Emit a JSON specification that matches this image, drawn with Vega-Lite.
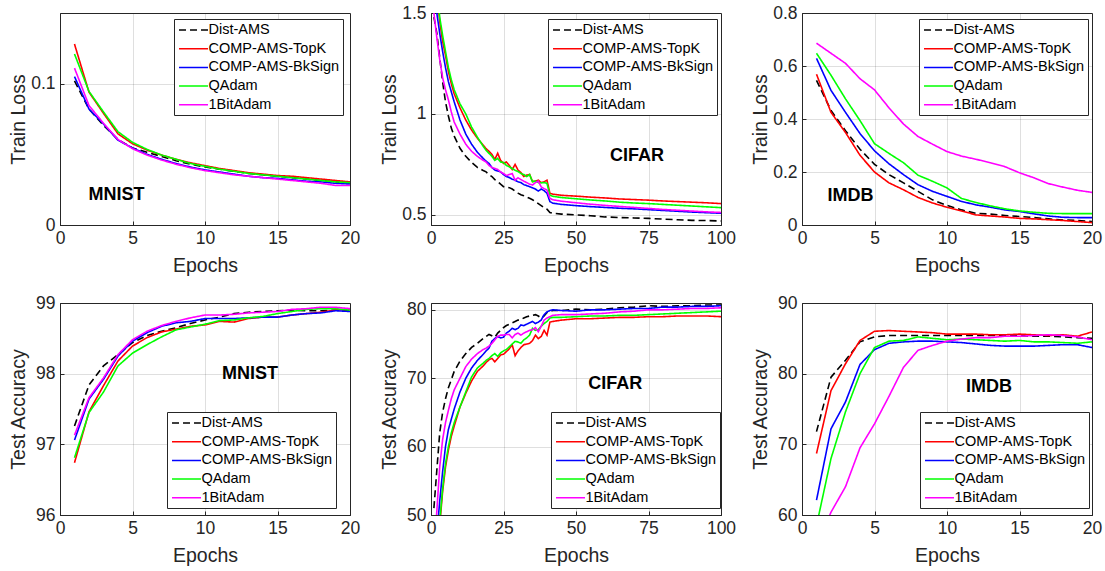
{
"$schema":"https://vega.github.io/schema/vega-lite/v6.json",
"background":"white",
"padding":{"left":8,"top":3,"right":5,"bottom":2},
"columns":3,
"bounds":"flush",
"spacing":{"row":78,"column":81},
"resolve":{"scale":{"x":"independent","y":"independent","color":"independent","strokeDash":"independent"},"legend":{"color":"independent","strokeDash":"independent"},"axis":{"x":"independent","y":"independent"}},
"config":{
 "font":"Liberation Sans",
 "view":{"stroke":"#262626","strokeWidth":1},
 "axis":{"domainColor":"#262626","domainWidth":1,"tickColor":"#262626","tickSize":-4,"labelColor":"#262626","titleColor":"#262626","labelFont":"Liberation Sans","titleFont":"Liberation Sans","labelFontSize":17.5,"titleFontSize":19.5,"titleFontWeight":"normal","gridColor":"#262626","gridOpacity":0.15,"labelFlush":false,"labelOverlap":false,"labelExpr":"''+datum.value"},
 "axisX":{"labelPadding":8,"minExtent":27,"maxExtent":27,"titlePadding":4.5},
 "axisY":{"labelPadding":9,"minExtent":26,"maxExtent":26,"titlePadding":5.5},
 "legend":{"orient":"none","fillColor":"white","strokeColor":"#262626","padding":3,"symbolType":"M-2,0H2","symbolSize":210,"symbolOffset":8.5,"symbolStrokeWidth":1.5,"labelFont":"Liberation Sans","labelFontSize":14.5,"labelColor":"#000000","rowPadding":3.7,"labelOffset":7,"labelLimit":300}
},
"datasets":{
"mt":[
{"e":1,"s":"D","v":0.102},{"e":2,"s":"D","v":0.082},{"e":3,"s":"D","v":0.0705},{"e":4,"s":"D","v":0.0605},{"e":5,"s":"D","v":0.0545},{"e":6,"s":"D","v":0.0515},{"e":7,"s":"D","v":0.0485},{"e":8,"s":"D","v":0.0455},{"e":9,"s":"D","v":0.043},{"e":10,"s":"D","v":0.041},{"e":11,"s":"D","v":0.0395},{"e":12,"s":"D","v":0.038},{"e":13,"s":"D","v":0.0365},{"e":14,"s":"D","v":0.0355},{"e":15,"s":"D","v":0.0345},{"e":16,"s":"D","v":0.0335},{"e":17,"s":"D","v":0.0325},{"e":18,"s":"D","v":0.0315},{"e":19,"s":"D","v":0.0305},{"e":20,"s":"D","v":0.0295},
{"e":1,"s":"T","v":0.128},{"e":2,"s":"T","v":0.094},{"e":3,"s":"T","v":0.079},{"e":4,"s":"T","v":0.0645},{"e":5,"s":"T","v":0.0575},{"e":6,"s":"T","v":0.053},{"e":7,"s":"T","v":0.0495},{"e":8,"s":"T","v":0.0465},{"e":9,"s":"T","v":0.044},{"e":10,"s":"T","v":0.042},{"e":11,"s":"T","v":0.040},{"e":12,"s":"T","v":0.0385},{"e":13,"s":"T","v":0.037},{"e":14,"s":"T","v":0.036},{"e":15,"s":"T","v":0.035},{"e":16,"s":"T","v":0.0345},{"e":17,"s":"T","v":0.0335},{"e":18,"s":"T","v":0.0325},{"e":19,"s":"T","v":0.0315},{"e":20,"s":"T","v":0.0305},
{"e":1,"s":"B","v":0.105},{"e":2,"s":"B","v":0.082},{"e":3,"s":"B","v":0.0715},{"e":4,"s":"B","v":0.060},{"e":5,"s":"B","v":0.0545},{"e":6,"s":"B","v":0.050},{"e":7,"s":"B","v":0.0465},{"e":8,"s":"B","v":0.0435},{"e":9,"s":"B","v":0.041},{"e":10,"s":"B","v":0.039},{"e":11,"s":"B","v":0.0375},{"e":12,"s":"B","v":0.036},{"e":13,"s":"B","v":0.0345},{"e":14,"s":"B","v":0.0335},{"e":15,"s":"B","v":0.033},{"e":16,"s":"B","v":0.032},{"e":17,"s":"B","v":0.031},{"e":18,"s":"B","v":0.0305},{"e":19,"s":"B","v":0.0295},{"e":20,"s":"B","v":0.029},
{"e":1,"s":"Q","v":0.121},{"e":2,"s":"Q","v":0.0945},{"e":3,"s":"Q","v":0.080},{"e":4,"s":"Q","v":0.066},{"e":5,"s":"Q","v":0.0585},{"e":6,"s":"Q","v":0.0535},{"e":7,"s":"Q","v":0.0495},{"e":8,"s":"Q","v":0.0465},{"e":9,"s":"Q","v":0.0435},{"e":10,"s":"Q","v":0.0415},{"e":11,"s":"Q","v":0.0395},{"e":12,"s":"Q","v":0.038},{"e":13,"s":"Q","v":0.0365},{"e":14,"s":"Q","v":0.0355},{"e":15,"s":"Q","v":0.0345},{"e":16,"s":"Q","v":0.0335},{"e":17,"s":"Q","v":0.0325},{"e":18,"s":"Q","v":0.0315},{"e":19,"s":"Q","v":0.0305},{"e":20,"s":"Q","v":0.030},
{"e":1,"s":"O","v":0.111},{"e":2,"s":"O","v":0.0845},{"e":3,"s":"O","v":0.072},{"e":4,"s":"O","v":0.0605},{"e":5,"s":"O","v":0.054},{"e":6,"s":"O","v":0.0495},{"e":7,"s":"O","v":0.046},{"e":8,"s":"O","v":0.043},{"e":9,"s":"O","v":0.0405},{"e":10,"s":"O","v":0.0385},{"e":11,"s":"O","v":0.037},{"e":12,"s":"O","v":0.0355},{"e":13,"s":"O","v":0.0345},{"e":14,"s":"O","v":0.0335},{"e":15,"s":"O","v":0.0325},{"e":16,"s":"O","v":0.0315},{"e":17,"s":"O","v":0.0305},{"e":18,"s":"O","v":0.0295},{"e":19,"s":"O","v":0.028},{"e":20,"s":"O","v":0.028}
],
"ct":[
{"e":1,"s":"D","v":1.48},{"e":2,"s":"D","v":1.40},{"e":3,"s":"D","v":1.28},{"e":4,"s":"D","v":1.16},{"e":5,"s":"D","v":1.06},{"e":6,"s":"D","v":0.99},{"e":7,"s":"D","v":0.93},{"e":8,"s":"D","v":0.89},{"e":10,"s":"D","v":0.83},{"e":12,"s":"D","v":0.79},{"e":14,"s":"D","v":0.76},{"e":16,"s":"D","v":0.735},{"e":18,"s":"D","v":0.72},{"e":19,"s":"D","v":0.713},{"e":20,"s":"D","v":0.70},{"e":21,"s":"D","v":0.69},{"e":22,"s":"D","v":0.675},{"e":23,"s":"D","v":0.665},{"e":24,"s":"D","v":0.652},{"e":25,"s":"D","v":0.64},{"e":26,"s":"D","v":0.638},{"e":27,"s":"D","v":0.635},{"e":28,"s":"D","v":0.628},{"e":29,"s":"D","v":0.618},{"e":30,"s":"D","v":0.608},{"e":31,"s":"D","v":0.60},{"e":32,"s":"D","v":0.595},{"e":33,"s":"D","v":0.588},{"e":34,"s":"D","v":0.582},{"e":35,"s":"D","v":0.575},{"e":36,"s":"D","v":0.566},{"e":37,"s":"D","v":0.556},{"e":38,"s":"D","v":0.546},{"e":39,"s":"D","v":0.536},{"e":40,"s":"D","v":0.528},{"e":41,"s":"D","v":0.512},{"e":42,"s":"D","v":0.508},{"e":45,"s":"D","v":0.504},{"e":50,"s":"D","v":0.50},{"e":55,"s":"D","v":0.496},{"e":60,"s":"D","v":0.49},{"e":65,"s":"D","v":0.487},{"e":70,"s":"D","v":0.485},{"e":75,"s":"D","v":0.483},{"e":80,"s":"D","v":0.479},{"e":85,"s":"D","v":0.476},{"e":90,"s":"D","v":0.473},{"e":95,"s":"D","v":0.472},{"e":100,"s":"D","v":0.47},
{"e":1,"s":"T","v":1.80},{"e":2,"s":"T","v":1.60},{"e":3,"s":"T","v":1.46},{"e":4,"s":"T","v":1.36},{"e":5,"s":"T","v":1.29},{"e":6,"s":"T","v":1.21},{"e":7,"s":"T","v":1.15},{"e":8,"s":"T","v":1.10},{"e":10,"s":"T","v":1.03},{"e":12,"s":"T","v":0.97},{"e":14,"s":"T","v":0.92},{"e":16,"s":"T","v":0.88},{"e":18,"s":"T","v":0.845},{"e":19,"s":"T","v":0.828},{"e":20,"s":"T","v":0.815},{"e":21,"s":"T","v":0.80},{"e":22,"s":"T","v":0.775},{"e":23,"s":"T","v":0.805},{"e":24,"s":"T","v":0.77},{"e":25,"s":"T","v":0.755},{"e":26,"s":"T","v":0.762},{"e":27,"s":"T","v":0.745},{"e":28,"s":"T","v":0.725},{"e":29,"s":"T","v":0.75},{"e":30,"s":"T","v":0.722},{"e":31,"s":"T","v":0.71},{"e":32,"s":"T","v":0.69},{"e":33,"s":"T","v":0.697},{"e":34,"s":"T","v":0.70},{"e":35,"s":"T","v":0.665},{"e":36,"s":"T","v":0.668},{"e":37,"s":"T","v":0.672},{"e":38,"s":"T","v":0.66},{"e":39,"s":"T","v":0.664},{"e":40,"s":"T","v":0.672},{"e":41,"s":"T","v":0.607},{"e":42,"s":"T","v":0.603},{"e":45,"s":"T","v":0.597},{"e":50,"s":"T","v":0.593},{"e":55,"s":"T","v":0.588},{"e":60,"s":"T","v":0.584},{"e":65,"s":"T","v":0.579},{"e":70,"s":"T","v":0.576},{"e":75,"s":"T","v":0.573},{"e":80,"s":"T","v":0.569},{"e":85,"s":"T","v":0.566},{"e":90,"s":"T","v":0.563},{"e":95,"s":"T","v":0.56},{"e":100,"s":"T","v":0.556},
{"e":1,"s":"B","v":1.62},{"e":2,"s":"B","v":1.50},{"e":3,"s":"B","v":1.40},{"e":4,"s":"B","v":1.31},{"e":5,"s":"B","v":1.23},{"e":6,"s":"B","v":1.16},{"e":7,"s":"B","v":1.11},{"e":8,"s":"B","v":1.06},{"e":10,"s":"B","v":0.97},{"e":12,"s":"B","v":0.90},{"e":14,"s":"B","v":0.85},{"e":16,"s":"B","v":0.81},{"e":18,"s":"B","v":0.78},{"e":19,"s":"B","v":0.766},{"e":20,"s":"B","v":0.755},{"e":21,"s":"B","v":0.735},{"e":22,"s":"B","v":0.722},{"e":23,"s":"B","v":0.718},{"e":24,"s":"B","v":0.713},{"e":25,"s":"B","v":0.70},{"e":26,"s":"B","v":0.69},{"e":27,"s":"B","v":0.685},{"e":28,"s":"B","v":0.677},{"e":29,"s":"B","v":0.672},{"e":30,"s":"B","v":0.664},{"e":31,"s":"B","v":0.66},{"e":32,"s":"B","v":0.65},{"e":33,"s":"B","v":0.645},{"e":34,"s":"B","v":0.64},{"e":35,"s":"B","v":0.634},{"e":36,"s":"B","v":0.628},{"e":37,"s":"B","v":0.618},{"e":38,"s":"B","v":0.628},{"e":39,"s":"B","v":0.62},{"e":40,"s":"B","v":0.607},{"e":41,"s":"B","v":0.566},{"e":42,"s":"B","v":0.558},{"e":45,"s":"B","v":0.552},{"e":50,"s":"B","v":0.546},{"e":55,"s":"B","v":0.541},{"e":60,"s":"B","v":0.537},{"e":65,"s":"B","v":0.533},{"e":70,"s":"B","v":0.53},{"e":75,"s":"B","v":0.526},{"e":80,"s":"B","v":0.522},{"e":85,"s":"B","v":0.518},{"e":90,"s":"B","v":0.514},{"e":95,"s":"B","v":0.511},{"e":100,"s":"B","v":0.508},
{"e":1,"s":"Q","v":1.85},{"e":2,"s":"Q","v":1.65},{"e":3,"s":"Q","v":1.48},{"e":4,"s":"Q","v":1.39},{"e":5,"s":"Q","v":1.31},{"e":6,"s":"Q","v":1.23},{"e":7,"s":"Q","v":1.17},{"e":8,"s":"Q","v":1.12},{"e":10,"s":"Q","v":1.05},{"e":12,"s":"Q","v":1.00},{"e":14,"s":"Q","v":0.935},{"e":16,"s":"Q","v":0.885},{"e":18,"s":"Q","v":0.84},{"e":19,"s":"Q","v":0.82},{"e":20,"s":"Q","v":0.805},{"e":21,"s":"Q","v":0.79},{"e":22,"s":"Q","v":0.77},{"e":23,"s":"Q","v":0.78},{"e":24,"s":"Q","v":0.762},{"e":25,"s":"Q","v":0.76},{"e":26,"s":"Q","v":0.745},{"e":27,"s":"Q","v":0.738},{"e":28,"s":"Q","v":0.73},{"e":29,"s":"Q","v":0.721},{"e":30,"s":"Q","v":0.715},{"e":31,"s":"Q","v":0.705},{"e":32,"s":"Q","v":0.70},{"e":33,"s":"Q","v":0.69},{"e":34,"s":"Q","v":0.70},{"e":35,"s":"Q","v":0.664},{"e":36,"s":"Q","v":0.668},{"e":37,"s":"Q","v":0.66},{"e":38,"s":"Q","v":0.659},{"e":39,"s":"Q","v":0.66},{"e":40,"s":"Q","v":0.656},{"e":41,"s":"Q","v":0.598},{"e":42,"s":"Q","v":0.592},{"e":45,"s":"Q","v":0.586},{"e":50,"s":"Q","v":0.58},{"e":55,"s":"Q","v":0.574},{"e":60,"s":"Q","v":0.569},{"e":65,"s":"Q","v":0.563},{"e":70,"s":"Q","v":0.559},{"e":75,"s":"Q","v":0.556},{"e":80,"s":"Q","v":0.552},{"e":85,"s":"Q","v":0.548},{"e":90,"s":"Q","v":0.544},{"e":95,"s":"Q","v":0.54},{"e":100,"s":"Q","v":0.536},
{"e":1,"s":"O","v":1.50},{"e":2,"s":"O","v":1.38},{"e":3,"s":"O","v":1.27},{"e":4,"s":"O","v":1.18},{"e":5,"s":"O","v":1.12},{"e":6,"s":"O","v":1.07},{"e":7,"s":"O","v":1.01},{"e":8,"s":"O","v":0.96},{"e":10,"s":"O","v":0.90},{"e":12,"s":"O","v":0.85},{"e":14,"s":"O","v":0.815},{"e":16,"s":"O","v":0.79},{"e":18,"s":"O","v":0.77},{"e":19,"s":"O","v":0.762},{"e":20,"s":"O","v":0.745},{"e":21,"s":"O","v":0.735},{"e":22,"s":"O","v":0.73},{"e":23,"s":"O","v":0.725},{"e":24,"s":"O","v":0.713},{"e":25,"s":"O","v":0.705},{"e":26,"s":"O","v":0.695},{"e":27,"s":"O","v":0.70},{"e":28,"s":"O","v":0.705},{"e":29,"s":"O","v":0.672},{"e":30,"s":"O","v":0.684},{"e":31,"s":"O","v":0.675},{"e":32,"s":"O","v":0.667},{"e":33,"s":"O","v":0.66},{"e":34,"s":"O","v":0.652},{"e":35,"s":"O","v":0.648},{"e":36,"s":"O","v":0.66},{"e":37,"s":"O","v":0.667},{"e":38,"s":"O","v":0.639},{"e":39,"s":"O","v":0.63},{"e":40,"s":"O","v":0.623},{"e":41,"s":"O","v":0.582},{"e":42,"s":"O","v":0.575},{"e":45,"s":"O","v":0.568},{"e":50,"s":"O","v":0.56},{"e":55,"s":"O","v":0.553},{"e":60,"s":"O","v":0.547},{"e":65,"s":"O","v":0.542},{"e":70,"s":"O","v":0.537},{"e":75,"s":"O","v":0.532},{"e":80,"s":"O","v":0.527},{"e":85,"s":"O","v":0.523},{"e":90,"s":"O","v":0.519},{"e":95,"s":"O","v":0.515},{"e":100,"s":"O","v":0.512}
],
"it":[
{"e":1,"s":"D","v":0.546},{"e":2,"s":"D","v":0.432},{"e":3,"s":"D","v":0.356},{"e":4,"s":"D","v":0.286},{"e":5,"s":"D","v":0.229},{"e":6,"s":"D","v":0.19},{"e":7,"s":"D","v":0.159},{"e":8,"s":"D","v":0.127},{"e":9,"s":"D","v":0.095},{"e":10,"s":"D","v":0.074},{"e":11,"s":"D","v":0.057},{"e":12,"s":"D","v":0.044},{"e":13,"s":"D","v":0.041},{"e":14,"s":"D","v":0.036},{"e":15,"s":"D","v":0.032},{"e":16,"s":"D","v":0.028},{"e":17,"s":"D","v":0.023},{"e":18,"s":"D","v":0.019},{"e":19,"s":"D","v":0.017},{"e":20,"s":"D","v":0.013},
{"e":1,"s":"T","v":0.569},{"e":2,"s":"T","v":0.425},{"e":3,"s":"T","v":0.349},{"e":4,"s":"T","v":0.263},{"e":5,"s":"T","v":0.20},{"e":6,"s":"T","v":0.159},{"e":7,"s":"T","v":0.133},{"e":8,"s":"T","v":0.104},{"e":9,"s":"T","v":0.083},{"e":10,"s":"T","v":0.067},{"e":11,"s":"T","v":0.053},{"e":12,"s":"T","v":0.038},{"e":13,"s":"T","v":0.034},{"e":14,"s":"T","v":0.030},{"e":15,"s":"T","v":0.025},{"e":16,"s":"T","v":0.023},{"e":17,"s":"T","v":0.020},{"e":18,"s":"T","v":0.017},{"e":19,"s":"T","v":0.013},{"e":20,"s":"T","v":0.009},
{"e":1,"s":"B","v":0.629},{"e":2,"s":"B","v":0.508},{"e":3,"s":"B","v":0.425},{"e":4,"s":"B","v":0.345},{"e":5,"s":"B","v":0.28},{"e":6,"s":"B","v":0.231},{"e":7,"s":"B","v":0.19},{"e":8,"s":"B","v":0.152},{"e":9,"s":"B","v":0.127},{"e":10,"s":"B","v":0.108},{"e":11,"s":"B","v":0.089},{"e":12,"s":"B","v":0.076},{"e":13,"s":"B","v":0.067},{"e":14,"s":"B","v":0.057},{"e":15,"s":"B","v":0.051},{"e":16,"s":"B","v":0.042},{"e":17,"s":"B","v":0.034},{"e":18,"s":"B","v":0.029},{"e":19,"s":"B","v":0.028},{"e":20,"s":"B","v":0.028},
{"e":1,"s":"Q","v":0.648},{"e":2,"s":"Q","v":0.565},{"e":3,"s":"Q","v":0.476},{"e":4,"s":"Q","v":0.394},{"e":5,"s":"Q","v":0.307},{"e":6,"s":"Q","v":0.27},{"e":7,"s":"Q","v":0.235},{"e":8,"s":"Q","v":0.188},{"e":9,"s":"Q","v":0.165},{"e":10,"s":"Q","v":0.14},{"e":11,"s":"Q","v":0.10},{"e":12,"s":"Q","v":0.085},{"e":13,"s":"Q","v":0.072},{"e":14,"s":"Q","v":0.061},{"e":15,"s":"Q","v":0.053},{"e":16,"s":"Q","v":0.048},{"e":17,"s":"Q","v":0.044},{"e":18,"s":"Q","v":0.043},{"e":19,"s":"Q","v":0.043},{"e":20,"s":"Q","v":0.043},
{"e":1,"s":"O","v":0.686},{"e":2,"s":"O","v":0.648},{"e":3,"s":"O","v":0.61},{"e":4,"s":"O","v":0.552},{"e":5,"s":"O","v":0.51},{"e":6,"s":"O","v":0.442},{"e":7,"s":"O","v":0.381},{"e":8,"s":"O","v":0.334},{"e":9,"s":"O","v":0.305},{"e":10,"s":"O","v":0.277},{"e":11,"s":"O","v":0.26},{"e":12,"s":"O","v":0.248},{"e":13,"s":"O","v":0.235},{"e":14,"s":"O","v":0.22},{"e":15,"s":"O","v":0.197},{"e":16,"s":"O","v":0.178},{"e":17,"s":"O","v":0.156},{"e":18,"s":"O","v":0.143},{"e":19,"s":"O","v":0.131},{"e":20,"s":"O","v":0.123}
],
"ma":[
{"e":1,"s":"D","v":97.26},{"e":2,"s":"D","v":97.84},{"e":3,"s":"D","v":98.11},{"e":4,"s":"D","v":98.27},{"e":5,"s":"D","v":98.44},{"e":6,"s":"D","v":98.54},{"e":7,"s":"D","v":98.60},{"e":8,"s":"D","v":98.65},{"e":9,"s":"D","v":98.71},{"e":10,"s":"D","v":98.76},{"e":11,"s":"D","v":98.80},{"e":12,"s":"D","v":98.85},{"e":13,"s":"D","v":98.87},{"e":14,"s":"D","v":98.88},{"e":15,"s":"D","v":98.89},{"e":16,"s":"D","v":98.90},{"e":17,"s":"D","v":98.89},{"e":18,"s":"D","v":98.89},{"e":19,"s":"D","v":98.90},{"e":20,"s":"D","v":98.89},
{"e":1,"s":"T","v":96.74},{"e":2,"s":"T","v":97.46},{"e":3,"s":"T","v":97.83},{"e":4,"s":"T","v":98.18},{"e":5,"s":"T","v":98.39},{"e":6,"s":"T","v":98.51},{"e":7,"s":"T","v":98.59},{"e":8,"s":"T","v":98.63},{"e":9,"s":"T","v":98.67},{"e":10,"s":"T","v":98.69},{"e":11,"s":"T","v":98.74},{"e":12,"s":"T","v":98.73},{"e":13,"s":"T","v":98.78},{"e":14,"s":"T","v":98.80},{"e":15,"s":"T","v":98.80},{"e":16,"s":"T","v":98.83},{"e":17,"s":"T","v":98.85},{"e":18,"s":"T","v":98.87},{"e":19,"s":"T","v":98.90},{"e":20,"s":"T","v":98.91},
{"e":1,"s":"B","v":97.06},{"e":2,"s":"B","v":97.64},{"e":3,"s":"B","v":97.92},{"e":4,"s":"B","v":98.25},{"e":5,"s":"B","v":98.46},{"e":6,"s":"B","v":98.58},{"e":7,"s":"B","v":98.67},{"e":8,"s":"B","v":98.72},{"e":9,"s":"B","v":98.74},{"e":10,"s":"B","v":98.78},{"e":11,"s":"B","v":98.78},{"e":12,"s":"B","v":98.78},{"e":13,"s":"B","v":98.79},{"e":14,"s":"B","v":98.80},{"e":15,"s":"B","v":98.80},{"e":16,"s":"B","v":98.83},{"e":17,"s":"B","v":98.85},{"e":18,"s":"B","v":98.86},{"e":19,"s":"B","v":98.89},{"e":20,"s":"B","v":98.88},
{"e":1,"s":"Q","v":96.81},{"e":2,"s":"Q","v":97.45},{"e":3,"s":"Q","v":97.74},{"e":4,"s":"Q","v":98.11},{"e":5,"s":"Q","v":98.29},{"e":6,"s":"Q","v":98.41},{"e":7,"s":"Q","v":98.52},{"e":8,"s":"Q","v":98.62},{"e":9,"s":"Q","v":98.66},{"e":10,"s":"Q","v":98.70},{"e":11,"s":"Q","v":98.75},{"e":12,"s":"Q","v":98.76},{"e":13,"s":"Q","v":98.79},{"e":14,"s":"Q","v":98.81},{"e":15,"s":"Q","v":98.85},{"e":16,"s":"Q","v":98.88},{"e":17,"s":"Q","v":98.91},{"e":18,"s":"Q","v":98.92},{"e":19,"s":"Q","v":98.92},{"e":20,"s":"Q","v":98.90},
{"e":1,"s":"O","v":97.13},{"e":2,"s":"O","v":97.66},{"e":3,"s":"O","v":97.94},{"e":4,"s":"O","v":98.27},{"e":5,"s":"O","v":98.48},{"e":6,"s":"O","v":98.60},{"e":7,"s":"O","v":98.68},{"e":8,"s":"O","v":98.74},{"e":9,"s":"O","v":98.79},{"e":10,"s":"O","v":98.83},{"e":11,"s":"O","v":98.83},{"e":12,"s":"O","v":98.84},{"e":13,"s":"O","v":98.86},{"e":14,"s":"O","v":98.87},{"e":15,"s":"O","v":98.88},{"e":16,"s":"O","v":98.91},{"e":17,"s":"O","v":98.92},{"e":18,"s":"O","v":98.94},{"e":19,"s":"O","v":98.94},{"e":20,"s":"O","v":98.92}
],
"ca":[
{"e":1,"s":"D","v":51},{"e":2,"s":"D","v":56.5},{"e":3,"s":"D","v":62},{"e":4,"s":"D","v":65},{"e":5,"s":"D","v":67},{"e":6,"s":"D","v":68.6},{"e":7,"s":"D","v":69.8},{"e":8,"s":"D","v":71},{"e":10,"s":"D","v":72.5},{"e":12,"s":"D","v":73.6},{"e":14,"s":"D","v":74.5},{"e":16,"s":"D","v":75.1},{"e":18,"s":"D","v":75.8},{"e":19,"s":"D","v":76.1},{"e":20,"s":"D","v":76.4},{"e":21,"s":"D","v":76.2},{"e":22,"s":"D","v":76.0},{"e":23,"s":"D","v":76.6},{"e":24,"s":"D","v":77.0},{"e":25,"s":"D","v":77.4},{"e":26,"s":"D","v":77.7},{"e":27,"s":"D","v":77.9},{"e":28,"s":"D","v":78.1},{"e":29,"s":"D","v":78.3},{"e":30,"s":"D","v":78.5},{"e":31,"s":"D","v":78.6},{"e":32,"s":"D","v":78.8},{"e":33,"s":"D","v":79.0},{"e":34,"s":"D","v":79.1},{"e":35,"s":"D","v":79.2},{"e":36,"s":"D","v":79.3},{"e":37,"s":"D","v":79.1},{"e":38,"s":"D","v":78.8},{"e":39,"s":"D","v":79.1},{"e":40,"s":"D","v":79.6},{"e":41,"s":"D","v":79.8},{"e":42,"s":"D","v":79.9},{"e":45,"s":"D","v":79.9},{"e":50,"s":"D","v":80.1},{"e":55,"s":"D","v":80.0},{"e":60,"s":"D","v":80.1},{"e":65,"s":"D","v":80.3},{"e":70,"s":"D","v":80.4},{"e":75,"s":"D","v":80.6},{"e":80,"s":"D","v":80.5},{"e":85,"s":"D","v":80.6},{"e":90,"s":"D","v":80.6},{"e":95,"s":"D","v":80.7},{"e":100,"s":"D","v":80.7},
{"e":1,"s":"T","v":38},{"e":2,"s":"T","v":44},{"e":3,"s":"T","v":48.5},{"e":4,"s":"T","v":53.4},{"e":5,"s":"T","v":57},{"e":6,"s":"T","v":59.5},{"e":7,"s":"T","v":61.5},{"e":8,"s":"T","v":63},{"e":10,"s":"T","v":65.8},{"e":12,"s":"T","v":67.8},{"e":14,"s":"T","v":69.6},{"e":16,"s":"T","v":71},{"e":18,"s":"T","v":71.8},{"e":19,"s":"T","v":72.3},{"e":20,"s":"T","v":72.7},{"e":21,"s":"T","v":72.9},{"e":22,"s":"T","v":72.4},{"e":23,"s":"T","v":72.9},{"e":24,"s":"T","v":73.4},{"e":25,"s":"T","v":73.5},{"e":26,"s":"T","v":73.9},{"e":27,"s":"T","v":74.3},{"e":28,"s":"T","v":74.9},{"e":29,"s":"T","v":73.3},{"e":30,"s":"T","v":74.0},{"e":31,"s":"T","v":74.5},{"e":32,"s":"T","v":74.9},{"e":33,"s":"T","v":75.0},{"e":34,"s":"T","v":75.1},{"e":35,"s":"T","v":75.5},{"e":36,"s":"T","v":76.3},{"e":37,"s":"T","v":75.8},{"e":38,"s":"T","v":76.1},{"e":39,"s":"T","v":77.0},{"e":40,"s":"T","v":76.3},{"e":41,"s":"T","v":78.2},{"e":42,"s":"T","v":78.3},{"e":45,"s":"T","v":78.5},{"e":50,"s":"T","v":78.7},{"e":55,"s":"T","v":78.7},{"e":60,"s":"T","v":78.8},{"e":65,"s":"T","v":78.9},{"e":70,"s":"T","v":78.9},{"e":75,"s":"T","v":79.0},{"e":80,"s":"T","v":79.0},{"e":85,"s":"T","v":79.1},{"e":90,"s":"T","v":79.1},{"e":95,"s":"T","v":79.1},{"e":100,"s":"T","v":79.0},
{"e":1,"s":"B","v":40},{"e":2,"s":"B","v":47},{"e":3,"s":"B","v":52},{"e":4,"s":"B","v":56.3},{"e":5,"s":"B","v":60},{"e":6,"s":"B","v":62.5},{"e":7,"s":"B","v":64},{"e":8,"s":"B","v":65.5},{"e":10,"s":"B","v":68},{"e":12,"s":"B","v":70},{"e":14,"s":"B","v":71.5},{"e":16,"s":"B","v":72.6},{"e":18,"s":"B","v":73.5},{"e":19,"s":"B","v":74.0},{"e":20,"s":"B","v":74.4},{"e":21,"s":"B","v":75.4},{"e":22,"s":"B","v":75.8},{"e":23,"s":"B","v":76.1},{"e":24,"s":"B","v":75.9},{"e":25,"s":"B","v":76.0},{"e":26,"s":"B","v":76.6},{"e":27,"s":"B","v":76.9},{"e":28,"s":"B","v":77.3},{"e":29,"s":"B","v":77.1},{"e":30,"s":"B","v":77.3},{"e":31,"s":"B","v":77.8},{"e":32,"s":"B","v":77.7},{"e":33,"s":"B","v":77.9},{"e":34,"s":"B","v":78.1},{"e":35,"s":"B","v":78.3},{"e":36,"s":"B","v":78.0},{"e":37,"s":"B","v":78.2},{"e":38,"s":"B","v":78.5},{"e":39,"s":"B","v":79.3},{"e":40,"s":"B","v":79.7},{"e":41,"s":"B","v":79.9},{"e":42,"s":"B","v":80.0},{"e":45,"s":"B","v":79.9},{"e":50,"s":"B","v":79.8},{"e":55,"s":"B","v":80.0},{"e":60,"s":"B","v":80.0},{"e":65,"s":"B","v":80.1},{"e":70,"s":"B","v":80.2},{"e":75,"s":"B","v":80.2},{"e":80,"s":"B","v":80.4},{"e":85,"s":"B","v":80.4},{"e":90,"s":"B","v":80.5},{"e":95,"s":"B","v":80.5},{"e":100,"s":"B","v":80.6},
{"e":1,"s":"Q","v":39},{"e":2,"s":"Q","v":44.5},{"e":3,"s":"Q","v":49},{"e":4,"s":"Q","v":53.8},{"e":5,"s":"Q","v":57.5},{"e":6,"s":"Q","v":60},{"e":7,"s":"Q","v":62},{"e":8,"s":"Q","v":63.5},{"e":10,"s":"Q","v":65.8},{"e":12,"s":"Q","v":68},{"e":14,"s":"Q","v":70.2},{"e":16,"s":"Q","v":71.5},{"e":18,"s":"Q","v":72.2},{"e":19,"s":"Q","v":72.6},{"e":20,"s":"Q","v":72.9},{"e":21,"s":"Q","v":73.3},{"e":22,"s":"Q","v":73.6},{"e":23,"s":"Q","v":73.2},{"e":24,"s":"Q","v":73.7},{"e":25,"s":"Q","v":74.0},{"e":26,"s":"Q","v":74.2},{"e":27,"s":"Q","v":74.6},{"e":28,"s":"Q","v":75.0},{"e":29,"s":"Q","v":75.4},{"e":30,"s":"Q","v":75.3},{"e":31,"s":"Q","v":75.1},{"e":32,"s":"Q","v":75.6},{"e":33,"s":"Q","v":75.9},{"e":34,"s":"Q","v":76.3},{"e":35,"s":"Q","v":77.3},{"e":36,"s":"Q","v":77.0},{"e":37,"s":"Q","v":77.1},{"e":38,"s":"Q","v":77.6},{"e":39,"s":"Q","v":78.0},{"e":40,"s":"Q","v":78.3},{"e":41,"s":"Q","v":78.8},{"e":42,"s":"Q","v":78.9},{"e":45,"s":"Q","v":78.9},{"e":50,"s":"Q","v":79.0},{"e":55,"s":"Q","v":79.1},{"e":60,"s":"Q","v":79.1},{"e":65,"s":"Q","v":79.2},{"e":70,"s":"Q","v":79.2},{"e":75,"s":"Q","v":79.3},{"e":80,"s":"Q","v":79.4},{"e":85,"s":"Q","v":79.5},{"e":90,"s":"Q","v":79.6},{"e":95,"s":"Q","v":79.7},{"e":100,"s":"Q","v":79.8},
{"e":1,"s":"O","v":45},{"e":2,"s":"O","v":50.5},{"e":3,"s":"O","v":57},{"e":4,"s":"O","v":61},{"e":5,"s":"O","v":63.5},{"e":6,"s":"O","v":65.3},{"e":7,"s":"O","v":67},{"e":8,"s":"O","v":68.3},{"e":10,"s":"O","v":70},{"e":12,"s":"O","v":71.7},{"e":14,"s":"O","v":72.8},{"e":16,"s":"O","v":73.6},{"e":18,"s":"O","v":74.2},{"e":19,"s":"O","v":74.4},{"e":20,"s":"O","v":74.7},{"e":21,"s":"O","v":75.1},{"e":22,"s":"O","v":75.6},{"e":23,"s":"O","v":76.1},{"e":24,"s":"O","v":76.3},{"e":25,"s":"O","v":76.3},{"e":26,"s":"O","v":76.4},{"e":27,"s":"O","v":76.4},{"e":28,"s":"O","v":75.9},{"e":29,"s":"O","v":76.4},{"e":30,"s":"O","v":76.6},{"e":31,"s":"O","v":76.3},{"e":32,"s":"O","v":76.6},{"e":33,"s":"O","v":76.8},{"e":34,"s":"O","v":77.0},{"e":35,"s":"O","v":77.1},{"e":36,"s":"O","v":77.4},{"e":37,"s":"O","v":76.8},{"e":38,"s":"O","v":77.6},{"e":39,"s":"O","v":78.5},{"e":40,"s":"O","v":78.8},{"e":41,"s":"O","v":79.0},{"e":42,"s":"O","v":79.2},{"e":45,"s":"O","v":79.3},{"e":50,"s":"O","v":79.3},{"e":55,"s":"O","v":79.4},{"e":60,"s":"O","v":79.5},{"e":65,"s":"O","v":79.7},{"e":70,"s":"O","v":79.8},{"e":75,"s":"O","v":80.0},{"e":80,"s":"O","v":80.0},{"e":85,"s":"O","v":80.1},{"e":90,"s":"O","v":80.2},{"e":95,"s":"O","v":80.2},{"e":100,"s":"O","v":80.3}
],
"ia":[
{"e":1,"s":"D","v":71.8},{"e":2,"s":"D","v":79.5},{"e":3,"s":"D","v":81.9},{"e":4,"s":"D","v":84.5},{"e":5,"s":"D","v":85.2},{"e":6,"s":"D","v":85.4},{"e":7,"s":"D","v":85.4},{"e":8,"s":"D","v":85.4},{"e":9,"s":"D","v":85.4},{"e":10,"s":"D","v":85.4},{"e":11,"s":"D","v":85.4},{"e":12,"s":"D","v":85.4},{"e":13,"s":"D","v":85.4},{"e":14,"s":"D","v":85.4},{"e":15,"s":"D","v":85.4},{"e":16,"s":"D","v":85.3},{"e":17,"s":"D","v":85.3},{"e":18,"s":"D","v":85.2},{"e":19,"s":"D","v":85.1},{"e":20,"s":"D","v":85.0},
{"e":1,"s":"T","v":68.7},{"e":2,"s":"T","v":77.6},{"e":3,"s":"T","v":81.4},{"e":4,"s":"T","v":84.7},{"e":5,"s":"T","v":86.0},{"e":6,"s":"T","v":86.1},{"e":7,"s":"T","v":86.0},{"e":8,"s":"T","v":85.9},{"e":9,"s":"T","v":85.8},{"e":10,"s":"T","v":85.6},{"e":11,"s":"T","v":85.6},{"e":12,"s":"T","v":85.6},{"e":13,"s":"T","v":85.5},{"e":14,"s":"T","v":85.5},{"e":15,"s":"T","v":85.6},{"e":16,"s":"T","v":85.5},{"e":17,"s":"T","v":85.4},{"e":18,"s":"T","v":85.5},{"e":19,"s":"T","v":85.3},{"e":20,"s":"T","v":85.9},
{"e":1,"s":"B","v":62.1},{"e":2,"s":"B","v":72.2},{"e":3,"s":"B","v":76.0},{"e":4,"s":"B","v":81.3},{"e":5,"s":"B","v":83.4},{"e":6,"s":"B","v":84.3},{"e":7,"s":"B","v":84.5},{"e":8,"s":"B","v":84.6},{"e":9,"s":"B","v":84.6},{"e":10,"s":"B","v":84.5},{"e":11,"s":"B","v":84.4},{"e":12,"s":"B","v":84.2},{"e":13,"s":"B","v":84.0},{"e":14,"s":"B","v":83.9},{"e":15,"s":"B","v":83.9},{"e":16,"s":"B","v":83.9},{"e":17,"s":"B","v":84.0},{"e":18,"s":"B","v":84.1},{"e":19,"s":"B","v":84.1},{"e":20,"s":"B","v":83.7},
{"e":1,"s":"Q","v":58.5},{"e":2,"s":"Q","v":68.0},{"e":3,"s":"Q","v":74.6},{"e":4,"s":"Q","v":80.0},{"e":5,"s":"Q","v":83.7},{"e":6,"s":"Q","v":84.6},{"e":7,"s":"Q","v":84.7},{"e":8,"s":"Q","v":85.2},{"e":9,"s":"Q","v":85.0},{"e":10,"s":"Q","v":84.8},{"e":11,"s":"Q","v":84.9},{"e":12,"s":"Q","v":84.8},{"e":13,"s":"Q","v":84.7},{"e":14,"s":"Q","v":84.6},{"e":15,"s":"Q","v":84.7},{"e":16,"s":"Q","v":84.5},{"e":17,"s":"Q","v":84.5},{"e":18,"s":"Q","v":84.4},{"e":19,"s":"Q","v":84.3},{"e":20,"s":"Q","v":84.5},
{"e":1,"s":"O","v":55.5},{"e":2,"s":"O","v":60.4},{"e":3,"s":"O","v":64.0},{"e":4,"s":"O","v":69.5},{"e":5,"s":"O","v":72.9},{"e":6,"s":"O","v":76.8},{"e":7,"s":"O","v":80.9},{"e":8,"s":"O","v":83.3},{"e":9,"s":"O","v":84.0},{"e":10,"s":"O","v":84.6},{"e":11,"s":"O","v":84.9},{"e":12,"s":"O","v":85.1},{"e":13,"s":"O","v":85.1},{"e":14,"s":"O","v":85.3},{"e":15,"s":"O","v":85.3},{"e":16,"s":"O","v":85.4},{"e":17,"s":"O","v":85.5},{"e":18,"s":"O","v":85.4},{"e":19,"s":"O","v":85.2},{"e":20,"s":"O","v":84.8}
]
},
"concat":[
{"width":290,"height":212,"data":{"name":"mt"},"layer":[
 {"mark":{"type":"line","strokeWidth":1.6,"clip":true},"encoding":{
  "x":{"field":"e","type":"quantitative","scale":{"domain":[0,20],"nice":false},"axis":{"values":[0,5,10,15,20],"title":"Epochs"}},
  "y":{"field":"v","type":"quantitative","scale":{"domain":[0,0.15],"nice":false,"zero":false},"axis":{"values":[0,0.1],"title":"Train Loss"}},
  "color":{"field":"s","type":"nominal","title":null,"scale":{"domain":["D","T","B","Q","O"],"range":["#000000","#ff0000","#0000ff","#00ff00","#ff00ff"]},"legend":{"legendX":114,"legendY":6,"labelExpr":"datum.label=='D'?'Dist-AMS':datum.label=='T'?'COMP-AMS-TopK':datum.label=='B'?'COMP-AMS-BkSign':datum.label=='Q'?'QAdam':'1BitAdam'"}},
  "strokeDash":{"field":"s","type":"nominal","title":null,"scale":{"domain":["D","T","B","Q","O"],"range":[[7,4],[1,0],[1,0],[1,0],[1,0]]},"legend":{"legendX":114,"legendY":6,"labelExpr":"datum.label=='D'?'Dist-AMS':datum.label=='T'?'COMP-AMS-TopK':datum.label=='B'?'COMP-AMS-BkSign':datum.label=='Q'?'QAdam':'1BitAdam'"}}}},
 {"data":{"values":[{"e":3.9,"v":0.021,"t":"MNIST"}]},"mark":{"type":"text","font":"Liberation Sans","fontWeight":"bold","fontSize":18,"color":"#000000"},"encoding":{"x":{"field":"e","type":"quantitative"},"y":{"field":"v","type":"quantitative"},"text":{"field":"t"}}}
]},
{"width":290,"height":212,"data":{"name":"ct"},"layer":[
 {"mark":{"type":"line","strokeWidth":1.6,"clip":true},"encoding":{
  "x":{"field":"e","type":"quantitative","scale":{"domain":[0,100],"nice":false},"axis":{"values":[0,25,50,75,100],"title":"Epochs"}},
  "y":{"field":"v","type":"quantitative","scale":{"domain":[0.45,1.5],"nice":false,"zero":false},"axis":{"values":[0.5,1,1.5],"title":"Train Loss"}},
  "color":{"field":"s","type":"nominal","title":null,"scale":{"domain":["D","T","B","Q","O"],"range":["#000000","#ff0000","#0000ff","#00ff00","#ff00ff"]},"legend":{"legendX":117,"legendY":6,"labelExpr":"datum.label=='D'?'Dist-AMS':datum.label=='T'?'COMP-AMS-TopK':datum.label=='B'?'COMP-AMS-BkSign':datum.label=='Q'?'QAdam':'1BitAdam'"}},
  "strokeDash":{"field":"s","type":"nominal","title":null,"scale":{"domain":["D","T","B","Q","O"],"range":[[7,4],[1,0],[1,0],[1,0],[1,0]]},"legend":{"legendX":117,"legendY":6,"labelExpr":"datum.label=='D'?'Dist-AMS':datum.label=='T'?'COMP-AMS-TopK':datum.label=='B'?'COMP-AMS-BkSign':datum.label=='Q'?'QAdam':'1BitAdam'"}}}},
 {"data":{"values":[{"e":71,"v":0.79,"t":"CIFAR"}]},"mark":{"type":"text","font":"Liberation Sans","fontWeight":"bold","fontSize":18,"color":"#000000"},"encoding":{"x":{"field":"e","type":"quantitative"},"y":{"field":"v","type":"quantitative"},"text":{"field":"t"}}}
]},
{"width":290,"height":212,"data":{"name":"it"},"layer":[
 {"mark":{"type":"line","strokeWidth":1.6,"clip":true},"encoding":{
  "x":{"field":"e","type":"quantitative","scale":{"domain":[0,20],"nice":false},"axis":{"values":[0,5,10,15,20],"title":"Epochs"}},
  "y":{"field":"v","type":"quantitative","scale":{"domain":[0,0.8],"nice":false,"zero":false},"axis":{"values":[0,0.2,0.4,0.6,0.8],"title":"Train Loss"}},
  "color":{"field":"s","type":"nominal","title":null,"scale":{"domain":["D","T","B","Q","O"],"range":["#000000","#ff0000","#0000ff","#00ff00","#ff00ff"]},"legend":{"legendX":117,"legendY":6,"labelExpr":"datum.label=='D'?'Dist-AMS':datum.label=='T'?'COMP-AMS-TopK':datum.label=='B'?'COMP-AMS-BkSign':datum.label=='Q'?'QAdam':'1BitAdam'"}},
  "strokeDash":{"field":"s","type":"nominal","title":null,"scale":{"domain":["D","T","B","Q","O"],"range":[[7,4],[1,0],[1,0],[1,0],[1,0]]},"legend":{"legendX":117,"legendY":6,"labelExpr":"datum.label=='D'?'Dist-AMS':datum.label=='T'?'COMP-AMS-TopK':datum.label=='B'?'COMP-AMS-BkSign':datum.label=='Q'?'QAdam':'1BitAdam'"}}}},
 {"data":{"values":[{"e":3.34,"v":0.108,"t":"IMDB"}]},"mark":{"type":"text","font":"Liberation Sans","fontWeight":"bold","fontSize":18,"color":"#000000"},"encoding":{"x":{"field":"e","type":"quantitative"},"y":{"field":"v","type":"quantitative"},"text":{"field":"t"}}}
]},
{"width":290,"height":212,"data":{"name":"ma"},"layer":[
 {"mark":{"type":"line","strokeWidth":1.6,"clip":true},"encoding":{
  "x":{"field":"e","type":"quantitative","scale":{"domain":[0,20],"nice":false},"axis":{"values":[0,5,10,15,20],"title":"Epochs"}},
  "y":{"field":"v","type":"quantitative","scale":{"domain":[96,99],"nice":false,"zero":false},"axis":{"values":[96,97,98,99],"title":"Test Accuracy"}},
  "color":{"field":"s","type":"nominal","title":null,"scale":{"domain":["D","T","B","Q","O"],"range":["#000000","#ff0000","#0000ff","#00ff00","#ff00ff"]},"legend":{"legendX":107,"legendY":109,"labelExpr":"datum.label=='D'?'Dist-AMS':datum.label=='T'?'COMP-AMS-TopK':datum.label=='B'?'COMP-AMS-BkSign':datum.label=='Q'?'QAdam':'1BitAdam'"}},
  "strokeDash":{"field":"s","type":"nominal","title":null,"scale":{"domain":["D","T","B","Q","O"],"range":[[7,4],[1,0],[1,0],[1,0],[1,0]]},"legend":{"legendX":107,"legendY":109,"labelExpr":"datum.label=='D'?'Dist-AMS':datum.label=='T'?'COMP-AMS-TopK':datum.label=='B'?'COMP-AMS-BkSign':datum.label=='Q'?'QAdam':'1BitAdam'"}}}},
 {"data":{"values":[{"e":13.1,"v":97.99,"t":"MNIST"}]},"mark":{"type":"text","font":"Liberation Sans","fontWeight":"bold","fontSize":18,"color":"#000000"},"encoding":{"x":{"field":"e","type":"quantitative"},"y":{"field":"v","type":"quantitative"},"text":{"field":"t"}}}
]},
{"width":290,"height":212,"data":{"name":"ca"},"layer":[
 {"mark":{"type":"line","strokeWidth":1.6,"clip":true},"encoding":{
  "x":{"field":"e","type":"quantitative","scale":{"domain":[0,100],"nice":false},"axis":{"values":[0,25,50,75,100],"title":"Epochs"}},
  "y":{"field":"v","type":"quantitative","scale":{"domain":[50,81],"nice":false,"zero":false},"axis":{"values":[50,60,70,80],"title":"Test Accuracy"}},
  "color":{"field":"s","type":"nominal","title":null,"scale":{"domain":["D","T","B","Q","O"],"range":["#000000","#ff0000","#0000ff","#00ff00","#ff00ff"]},"legend":{"legendX":120,"legendY":109,"labelExpr":"datum.label=='D'?'Dist-AMS':datum.label=='T'?'COMP-AMS-TopK':datum.label=='B'?'COMP-AMS-BkSign':datum.label=='Q'?'QAdam':'1BitAdam'"}},
  "strokeDash":{"field":"s","type":"nominal","title":null,"scale":{"domain":["D","T","B","Q","O"],"range":[[7,4],[1,0],[1,0],[1,0],[1,0]]},"legend":{"legendX":120,"legendY":109,"labelExpr":"datum.label=='D'?'Dist-AMS':datum.label=='T'?'COMP-AMS-TopK':datum.label=='B'?'COMP-AMS-BkSign':datum.label=='Q'?'QAdam':'1BitAdam'"}}}},
 {"data":{"values":[{"e":63.5,"v":69.1,"t":"CIFAR"}]},"mark":{"type":"text","font":"Liberation Sans","fontWeight":"bold","fontSize":18,"color":"#000000"},"encoding":{"x":{"field":"e","type":"quantitative"},"y":{"field":"v","type":"quantitative"},"text":{"field":"t"}}}
]},
{"width":290,"height":212,"data":{"name":"ia"},"layer":[
 {"mark":{"type":"line","strokeWidth":1.6,"clip":true},"encoding":{
  "x":{"field":"e","type":"quantitative","scale":{"domain":[0,20],"nice":false},"axis":{"values":[0,5,10,15,20],"title":"Epochs"}},
  "y":{"field":"v","type":"quantitative","scale":{"domain":[60,90],"nice":false,"zero":false},"axis":{"values":[60,70,80,90],"title":"Test Accuracy"}},
  "color":{"field":"s","type":"nominal","title":null,"scale":{"domain":["D","T","B","Q","O"],"range":["#000000","#ff0000","#0000ff","#00ff00","#ff00ff"]},"legend":{"legendX":118,"legendY":109,"labelExpr":"datum.label=='D'?'Dist-AMS':datum.label=='T'?'COMP-AMS-TopK':datum.label=='B'?'COMP-AMS-BkSign':datum.label=='Q'?'QAdam':'1BitAdam'"}},
  "strokeDash":{"field":"s","type":"nominal","title":null,"scale":{"domain":["D","T","B","Q","O"],"range":[[7,4],[1,0],[1,0],[1,0],[1,0]]},"legend":{"legendX":118,"legendY":109,"labelExpr":"datum.label=='D'?'Dist-AMS':datum.label=='T'?'COMP-AMS-TopK':datum.label=='B'?'COMP-AMS-BkSign':datum.label=='Q'?'QAdam':'1BitAdam'"}}}},
 {"data":{"values":[{"e":12.9,"v":78.1,"t":"IMDB"}]},"mark":{"type":"text","font":"Liberation Sans","fontWeight":"bold","fontSize":18,"color":"#000000"},"encoding":{"x":{"field":"e","type":"quantitative"},"y":{"field":"v","type":"quantitative"},"text":{"field":"t"}}}
]}
]
}
